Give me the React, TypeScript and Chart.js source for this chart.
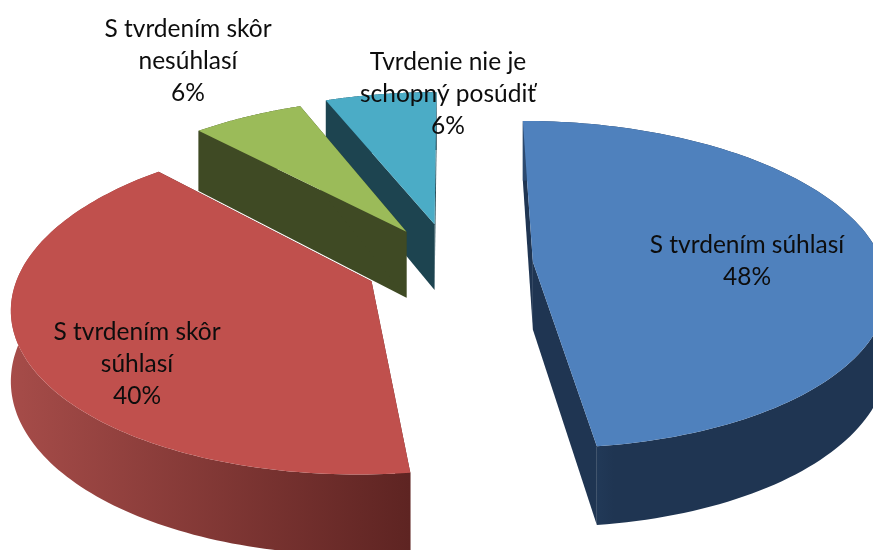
import React, { useEffect, useRef } from "react";
import { Chart, registerables } from "chart.js";

Chart.register(...registerables);

const categories = ["S tvrdením súhlasí", "S tvrdením skôr súhlasí", "S tvrdením skôr nesúhlasí", "Tvrdenie nie je schopný posúdiť"];
const values = [48, 40, 6, 6];
const percentLabels = ["48%", "40%", "6%", "6%"];
const labelLines = [["S tvrdením súhlasí"], ["S tvrdením skôr", "súhlasí"], ["S tvrdením skôr", "nesúhlasí"], ["Tvrdenie nie je", "schopný posúdiť"]];
const topColors = ["#4f81bd", "#c0504d", "#9bbb59", "#4bacc6"];
const faceColors = ["#1f3552", "#5e2422", "#3f4a24", "#1d4450"];
const wallColors = [["#2c4a70", "#1f3552"], ["#a64c49", "#5e2422"], ["#3f4a24", "#3f4a24"], ["#1d4450", "#1d4450"]];
const wallMidStop = [0.25, 1, 1, 1];
const explode = [170, 179, 177, 188];

const labelCenters = [[747, 245], [137, 332], [188, 29], [448, 62]];
const LINE_H = 32;
const VIEW = { cx: 451, cy: 264, a: 350, b: 161, k: 0.14, h: 68 };

const project = (u: number, v: number, z: number) => {
  const w = 1 - VIEW.k * v;
  return { x: VIEW.cx + (VIEW.a * u) / w, y: VIEW.cy + (VIEW.b * v - VIEW.h * z) / w };
};

const pie3d = {
  id: "pie3d",
  beforeDatasetsDraw(chart: any) {
    const { ctx } = chart;
    const arcs = chart.getDatasetMeta(0).data;
    for (let i = arcs.length - 1; i >= 0; i--) {
      const arc = arcs[i];
      const R = arc.outerRadius;
      const mid = (arc.startAngle + arc.endAngle) / 2;
      const e = arc.options.offset / 4 / R;
      const u0 = Math.cos(mid) * e;
      const v0 = Math.sin(mid) * e;
      const rim: number[][] = [];
      const steps = 120;
      for (let s = 0; s <= steps; s++) {
        const t = arc.startAngle + ((arc.endAngle - arc.startAngle) * s) / steps;
        rim.push([u0 + Math.cos(t), v0 + Math.sin(t)]);
      }
      const poly = (pts: { x: number; y: number }[], fill: any) => {
        ctx.beginPath();
        pts.forEach((p, n) => (n ? ctx.lineTo(p.x, p.y) : ctx.moveTo(p.x, p.y)));
        ctx.closePath();
        ctx.fillStyle = fill;
        ctx.fill();
      };
      const first = rim[0];
      const last = rim[steps];
      poly([project(u0, v0, 0), project(first[0], first[1], 0), project(first[0], first[1], -1), project(u0, v0, -1)], faceColors[i]);
      poly([project(u0, v0, 0), project(last[0], last[1], 0), project(last[0], last[1], -1), project(u0, v0, -1)], faceColors[i]);
      const topRim = rim.map((p) => project(p[0], p[1], 0));
      const botRim = rim.map((p) => project(p[0], p[1], -1));
      const xs = topRim.map((p) => p.x);
      const grad = ctx.createLinearGradient(Math.min(...xs), 0, Math.max(...xs), 0);
      grad.addColorStop(0, wallColors[i][0]);
      grad.addColorStop(wallMidStop[i], wallColors[i][1]);
      if (wallMidStop[i] < 1) grad.addColorStop(1, wallColors[i][1]);
      poly([...topRim, ...botRim.reverse()], grad);
      poly([project(u0, v0, 0), ...topRim], arc.options.backgroundColor);
    }
    ctx.save();
    ctx.fillStyle = "#0d0d0d";
    ctx.font = "24.5px Lato";
    ctx.textAlign = "center";
    ctx.textBaseline = "middle";
    labelLines.forEach((lines, i) => {
      const [x, y] = labelCenters[i];
      [...lines, percentLabels[i]].forEach((t, n) => ctx.fillText(t, x, y + n * LINE_H));
    });
    ctx.restore();
    return false;
  },
};

export default function App() {
  const ref = useRef<HTMLCanvasElement>(null);
  useEffect(() => {
    const chart = new Chart(ref.current as HTMLCanvasElement, {
      type: "pie",
      data: {
        labels: categories,
        datasets: [{ data: values, backgroundColor: topColors, borderWidth: 0, offset: explode }],
      },
      options: {
        animation: false,
        responsive: false,
        events: [],
        layout: { padding: 0 },
        plugins: { legend: { display: false }, tooltip: { enabled: false } },
      },
      plugins: [pie3d],
    } as any);
    return () => chart.destroy();
  }, []);
  return <canvas ref={ref} width={873} height={550} style={{ position: "fixed", left: 0, top: 0, display: "block" }} />;
}
